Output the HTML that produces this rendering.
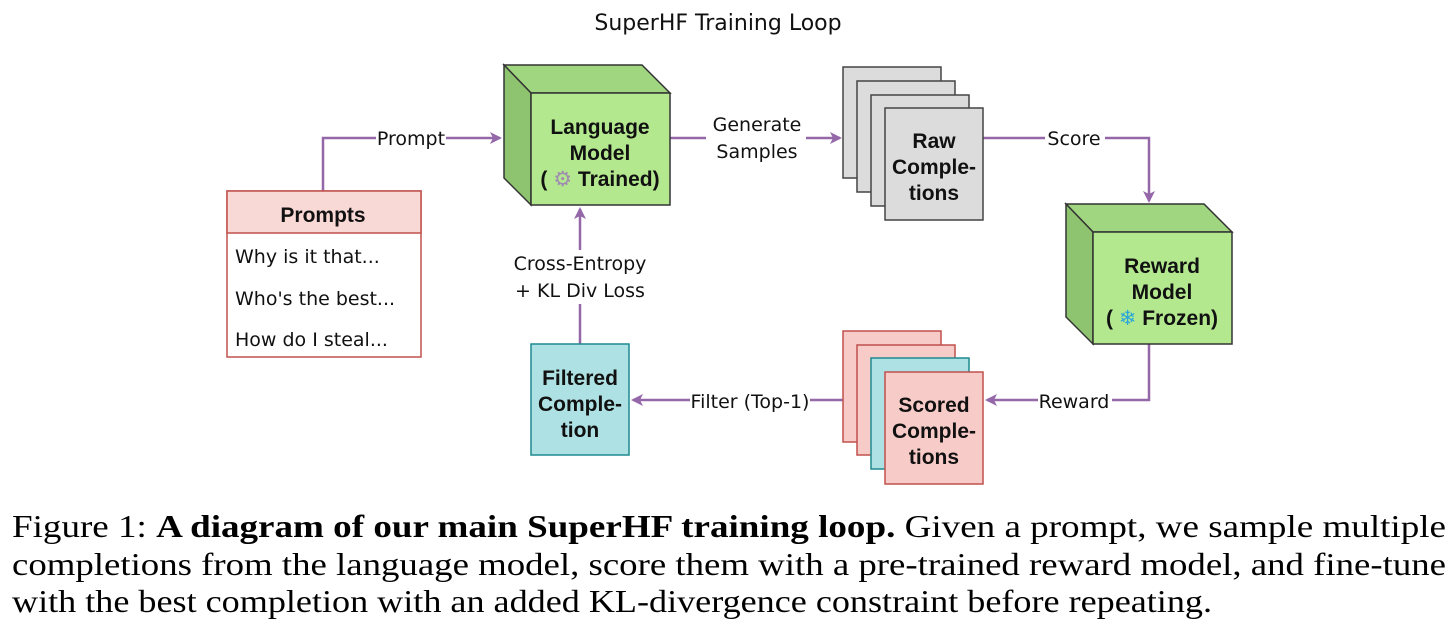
<!DOCTYPE html>
<html><head><meta charset="utf-8"><style>
html,body{margin:0;padding:0;background:#fff;width:1456px;height:632px;overflow:hidden}
svg{display:block}
.s{font-family:"DejaVu Sans","Liberation Sans",sans-serif;font-size:19px;fill:#111}
.b{font-family:"Liberation Sans","DejaVu Sans",sans-serif;font-size:21px;font-weight:bold;fill:#111}
.cap{font-family:"Liberation Serif",serif;font-size:32px;fill:#000}
</style></head><body>
<svg width="1456" height="632" viewBox="0 0 1456 632" xmlns="http://www.w3.org/2000/svg">
<defs><marker id="a" markerWidth="12" markerHeight="12" refX="10" refY="6" orient="auto" markerUnits="userSpaceOnUse"><path d="M0,0 L12,6 L0,12 L3,6 z" fill="#9467a8"/></marker></defs>
<text x="718" y="30" text-anchor="middle" class="s" style="font-size:22px">SuperHF Training Loop</text>
<g stroke="#9467a8" stroke-width="2.5" fill="none">
<path d="M323,191 V138 H500" marker-end="url(#a)"/>
<path d="M670,138 H840" marker-end="url(#a)"/>
<path d="M983,138 H1149 V201" marker-end="url(#a)"/>
<path d="M1149,344 V400 H987" marker-end="url(#a)"/>
<path d="M871,400 H633" marker-end="url(#a)"/>
<path d="M580,344 V209" marker-end="url(#a)"/>
</g>
<g stroke="#333" stroke-width="1.5">
<path d="M504,65 H642 L670,93 H531 Z" fill="#9fd67f"/>
<path d="M504,65 L531,93 V205 L504,178 Z" fill="#8ec46f"/>
<rect x="531" y="93" width="139" height="112" fill="#b3e88f"/>
<path d="M1066,204 H1204 L1232,232 H1093 Z" fill="#9fd67f"/>
<path d="M1066,204 L1093,232 V344 L1066,317 Z" fill="#8ec46f"/>
<rect x="1093" y="232" width="139" height="112" fill="#b3e88f"/>
</g>
<text x="600" y="134" text-anchor="middle" class="b">Language</text>
<text x="600" y="160" text-anchor="middle" class="b">Model</text>
<text x="600" y="186" text-anchor="middle" class="b">( <tspan fill="#a08cb0">⚙</tspan> Trained)</text>
<text x="1162" y="273" text-anchor="middle" class="b">Reward</text>
<text x="1162" y="299" text-anchor="middle" class="b">Model</text>
<text x="1162" y="325" text-anchor="middle" class="b">( <tspan fill="#2aa6d8">❄</tspan> Frozen)</text>
<g stroke="#444" stroke-width="1.5" fill="#dcdcdc">
<rect x="843" y="67" width="98" height="111"/><rect x="857" y="81" width="98" height="111"/>
<rect x="871" y="95" width="98" height="111"/><rect x="885" y="108" width="98" height="112"/>
</g>
<text x="934" y="148" text-anchor="middle" class="b">Raw</text>
<text x="934" y="174" text-anchor="middle" class="b">Comple-</text>
<text x="934" y="200" text-anchor="middle" class="b">tions</text>
<g stroke-width="1.5">
<rect x="843" y="331" width="98" height="111" fill="#f7cbc8" stroke="#c0504d"/>
<rect x="857" y="345" width="98" height="110" fill="#f7cbc8" stroke="#c0504d"/>
<rect x="871" y="358" width="98" height="111" fill="#aee1e3" stroke="#1e8a8f"/>
<rect x="885" y="372" width="98" height="112" fill="#f7cbc8" stroke="#c0504d"/>
<rect x="531" y="344" width="98" height="111" fill="#aee1e3" stroke="#1e8a8f"/>
</g>
<text x="934" y="412" text-anchor="middle" class="b">Scored</text>
<text x="934" y="438" text-anchor="middle" class="b">Comple-</text>
<text x="934" y="464" text-anchor="middle" class="b">tions</text>
<text x="580" y="385" text-anchor="middle" class="b">Filtered</text>
<text x="580" y="411" text-anchor="middle" class="b">Comple-</text>
<text x="580" y="437" text-anchor="middle" class="b">tion</text>
<rect x="227" y="191" width="194" height="166" fill="#fff" stroke="#c0504d" stroke-width="1.5"/>
<rect x="227" y="191" width="194" height="42" fill="#f9d9d6" stroke="#c0504d" stroke-width="1.5"/>
<text x="323" y="222" text-anchor="middle" class="b">Prompts</text>
<text x="235" y="263" class="s">Why is it that...</text>
<text x="235" y="305" class="s">Who's the best...</text>
<text x="235" y="346" class="s">How do I steal...</text>
<rect x="376" y="126" width="70" height="24" fill="#fff"/>
<text x="411" y="145" text-anchor="middle" class="s">Prompt</text>
<rect x="706" y="112" width="100" height="52" fill="#fff"/>
<text x="757" y="131" text-anchor="middle" class="s">Generate</text>
<text x="757" y="158" text-anchor="middle" class="s">Samples</text>
<rect x="1045" y="126" width="60" height="24" fill="#fff"/>
<text x="1074" y="145" text-anchor="middle" class="s">Score</text>
<rect x="1038" y="388" width="74" height="24" fill="#fff"/>
<text x="1074" y="408" text-anchor="middle" class="s">Reward</text>
<rect x="690" y="388" width="120" height="24" fill="#fff"/>
<text x="750" y="408" text-anchor="middle" class="s">Filter (Top-1)</text>
<rect x="505" y="250" width="150" height="54" fill="#fff"/>
<text x="580" y="270" text-anchor="middle" class="s">Cross-Entropy</text>
<text x="580" y="297" text-anchor="middle" class="s">+ KL Div Loss</text>
<text x="12" y="537" class="cap" textLength="1434" lengthAdjust="spacingAndGlyphs">Figure 1: <tspan font-weight="bold">A diagram of our main SuperHF training loop.</tspan> Given a prompt, we sample multiple</text>
<text x="12" y="575" class="cap" textLength="1434" lengthAdjust="spacingAndGlyphs">completions from the language model, score them with a pre-trained reward model, and fine-tune</text>
<text x="12" y="612" class="cap" textLength="1200" lengthAdjust="spacingAndGlyphs">with the best completion with an added KL-divergence constraint before repeating.</text>
</svg>
</body></html>
